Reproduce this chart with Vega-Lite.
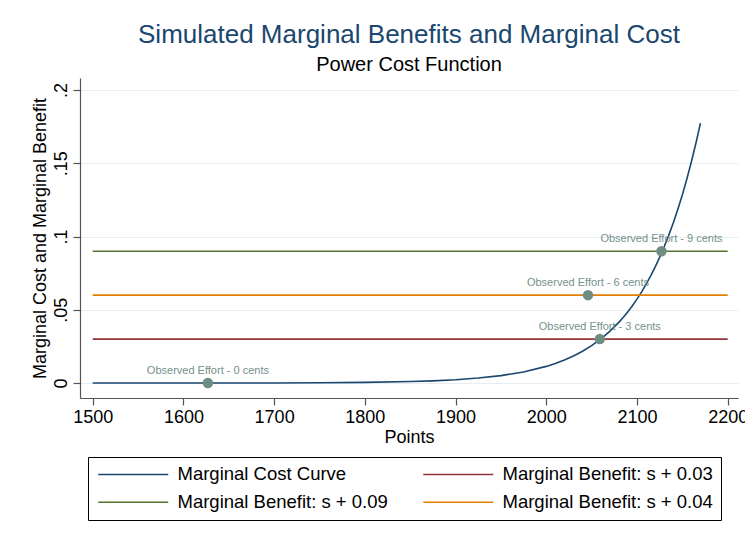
{
  "$schema": "https://vega.github.io/schema/vega-lite/v6.json",
  "autosize": {"type": "none"},
  "padding": {"left": 80, "top": 78, "right": 7, "bottom": 148},
  "width": 658,
  "height": 320,
  "background": "white",
  "title": {
    "text": "Simulated Marginal Benefits and Marginal Cost",
    "subtitle": "Power Cost Function",
    "font": "Liberation Sans",
    "subtitleFont": "Liberation Sans",
    "fontSize": 26,
    "subtitleFontSize": 20,
    "fontWeight": "normal",
    "color": "#1a476f",
    "subtitleColor": "#000000",
    "anchor": "middle",
    "offset": 3,
    "subtitlePadding": 7
  },
  "datasets": {
    "lines": [
      {"series": "Marginal Cost Curve", "x": 1500, "y": 0.0},
      {"series": "Marginal Cost Curve", "x": 1550, "y": 0.000008},
      {"series": "Marginal Cost Curve", "x": 1600, "y": 0.000018},
      {"series": "Marginal Cost Curve", "x": 1650, "y": 0.00004},
      {"series": "Marginal Cost Curve", "x": 1700, "y": 0.000089},
      {"series": "Marginal Cost Curve", "x": 1750, "y": 0.0002},
      {"series": "Marginal Cost Curve", "x": 1800, "y": 0.00045},
      {"series": "Marginal Cost Curve", "x": 1850, "y": 0.00101},
      {"series": "Marginal Cost Curve", "x": 1875, "y": 0.00151},
      {"series": "Marginal Cost Curve", "x": 1900, "y": 0.00226},
      {"series": "Marginal Cost Curve", "x": 1925, "y": 0.0034},
      {"series": "Marginal Cost Curve", "x": 1950, "y": 0.00507},
      {"series": "Marginal Cost Curve", "x": 1975, "y": 0.00759},
      {"series": "Marginal Cost Curve", "x": 2000, "y": 0.01137},
      {"series": "Marginal Cost Curve", "x": 2010, "y": 0.01337},
      {"series": "Marginal Cost Curve", "x": 2020, "y": 0.01572},
      {"series": "Marginal Cost Curve", "x": 2030, "y": 0.01847},
      {"series": "Marginal Cost Curve", "x": 2040, "y": 0.02171},
      {"series": "Marginal Cost Curve", "x": 2050, "y": 0.02552},
      {"series": "Marginal Cost Curve", "x": 2060, "y": 0.03},
      {"series": "Marginal Cost Curve", "x": 2070, "y": 0.03526},
      {"series": "Marginal Cost Curve", "x": 2080, "y": 0.0414},
      {"series": "Marginal Cost Curve", "x": 2085, "y": 0.0449},
      {"series": "Marginal Cost Curve", "x": 2090, "y": 0.0487},
      {"series": "Marginal Cost Curve", "x": 2095, "y": 0.0528},
      {"series": "Marginal Cost Curve", "x": 2100, "y": 0.0573},
      {"series": "Marginal Cost Curve", "x": 2105, "y": 0.0621},
      {"series": "Marginal Cost Curve", "x": 2110, "y": 0.0673},
      {"series": "Marginal Cost Curve", "x": 2115, "y": 0.073},
      {"series": "Marginal Cost Curve", "x": 2120, "y": 0.0791},
      {"series": "Marginal Cost Curve", "x": 2125, "y": 0.0858},
      {"series": "Marginal Cost Curve", "x": 2130, "y": 0.093},
      {"series": "Marginal Cost Curve", "x": 2135, "y": 0.1008},
      {"series": "Marginal Cost Curve", "x": 2140, "y": 0.1093},
      {"series": "Marginal Cost Curve", "x": 2145, "y": 0.1185},
      {"series": "Marginal Cost Curve", "x": 2150, "y": 0.1284},
      {"series": "Marginal Cost Curve", "x": 2155, "y": 0.1393},
      {"series": "Marginal Cost Curve", "x": 2160, "y": 0.151},
      {"series": "Marginal Cost Curve", "x": 2165, "y": 0.1637},
      {"series": "Marginal Cost Curve", "x": 2170, "y": 0.1774},
      {"series": "Marginal Benefit: s + 0.03", "x": 1500, "y": 0.03},
      {"series": "Marginal Benefit: s + 0.03", "x": 2200, "y": 0.03},
      {"series": "Marginal Benefit: s + 0.09", "x": 1500, "y": 0.09},
      {"series": "Marginal Benefit: s + 0.09", "x": 2200, "y": 0.09},
      {"series": "Marginal Benefit: s + 0.04", "x": 1500, "y": 0.06},
      {"series": "Marginal Benefit: s + 0.04", "x": 2200, "y": 0.06}
    ],
    "efforts": [
      {"x": 1627, "y": 0.0, "label": "Observed Effort - 0 cents"},
      {"x": 2059, "y": 0.03, "label": "Observed Effort - 3 cents"},
      {"x": 2046, "y": 0.06, "label": "Observed Effort - 6 cents"},
      {"x": 2127, "y": 0.09, "label": "Observed Effort - 9 cents"}
    ]
  },
  "encoding": {
    "x": {
      "field": "x",
      "type": "quantitative",
      "title": "Points",
      "scale": {"domain": [1486, 2211.4], "nice": false, "zero": false},
      "axis": {
        "values": [1500, 1600, 1700, 1800, 1900, 2000, 2100, 2200],
        "format": "d",
        "grid": false,
        "tickSize": 7,
        "labelPadding": 3,
        "titleY": 44,
        "titleBaseline": "alphabetic"
      }
    },
    "y": {
      "field": "y",
      "type": "quantitative",
      "title": "Marginal Cost and Marginal Benefit",
      "scale": {"domain": [-0.0102, 0.2082], "nice": false, "zero": false},
      "axis": {
        "values": [0, 0.05, 0.1, 0.15, 0.2],
        "labelExpr": "replace(format(datum.value, '~r'), '0.', '.')",
        "grid": true,
        "tickSize": 7,
        "labelAngle": 270,
        "labelAlign": "center",
        "labelBaseline": "bottom",
        "labelPadding": 3,
        "titleX": -40,
        "titleY": 160,
        "titleAngle": 270,
        "titleAlign": "center",
        "titleBaseline": "middle"
      }
    }
  },
  "layer": [
    {
      "data": {"name": "lines"},
      "mark": {"type": "line", "strokeWidth": 1.6},
      "encoding": {
        "color": {
          "field": "series",
          "type": "nominal",
          "scale": {
            "domain": ["Marginal Cost Curve", "Marginal Benefit: s + 0.03", "Marginal Benefit: s + 0.09", "Marginal Benefit: s + 0.04"],
            "range": ["#1a476f", "#90353b", "#55752f", "#e37e00"]
          },
          "legend": {
            "title": null,
            "orient": "none",
            "direction": "horizontal",
            "legendX": 8,
            "legendY": 379,
            "columns": 2,
            "columnPadding": 32,
            "rowPadding": 9,
            "padding": 8,
            "strokeColor": "#000000",
            "fillColor": "#ffffff",
            "symbolType": "M-1,0H9",
            "symbolSize": 196,
            "symbolStrokeWidth": 1.5,
            "labelOffset": 63,
            "labelFont": "Liberation Sans",
            "labelFontSize": 18.5,
            "labelColor": "#000000",
            "labelLimit": 400
          }
        }
      }
    },
    {
      "data": {"name": "efforts"},
      "mark": {"type": "point", "filled": true, "size": 110, "color": "#6e8e84", "opacity": 1}
    },
    {
      "data": {"name": "efforts"},
      "mark": {"type": "text", "dy": -12, "fontSize": 11, "font": "Liberation Sans", "color": "#74918a"},
      "encoding": {"text": {"field": "label"}}
    }
  ],
  "config": {
    "view": {"stroke": null},
    "axis": {
      "labelFont": "Liberation Sans",
      "titleFont": "Liberation Sans",
      "labelFontSize": 18,
      "titleFontSize": 18,
      "titleFontWeight": "normal",
      "labelColor": "#000000",
      "titleColor": "#000000",
      "domainColor": "#555555",
      "tickColor": "#555555",
      "domainWidth": 1.2,
      "tickWidth": 1.2,
      "gridColor": "#e6eef1",
      "gridWidth": 1.2
    }
  }
}
